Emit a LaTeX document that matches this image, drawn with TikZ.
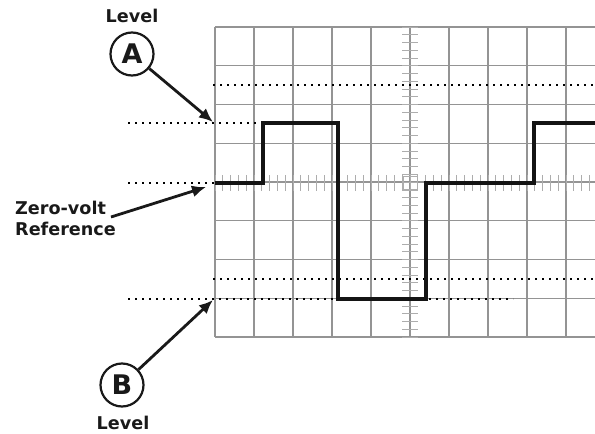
\documentclass[tikz,border=0pt]{standalone}
\usepackage{fontspec}
\setmainfont{DejaVu Sans}
\usetikzlibrary{arrows.meta}
\begin{document}
\begin{tikzpicture}[x=1pt,y=-1pt,
  gridline/.style={draw=black!42, line width=1.2pt},
  tickline/.style={draw=black!32, line width=1pt},
  dotline/.style={line width=2.3pt, dash pattern=on 2.2pt off 4.8pt},
  wave/.style={line width=3.6pt, line join=miter, draw=black!92},
  lbl/.style={font=\fontsize{17.6}{21}\selectfont\bfseries, text=black!90, inner sep=0pt},
  circ/.style={circle, draw=black!90, line width=2.2pt, minimum size=43pt, inner sep=0pt, font=\fontsize{27}{27}\selectfont\bfseries, text=black!90},
  pointer/.style={line width=2.8pt, draw=black!90, -{Latex[length=14pt,width=12pt]}}]
\useasboundingbox (0,0) rectangle (595,434);
\begin{scope}
\clip (0,0) rectangle (595,434);
% graticule
\foreach \i in {0,...,9} \draw[gridline] (215+39*\i,27) -- (215+39*\i,337);
\foreach \j in {0,...,8} \draw[gridline] (215,27+38.75*\j) -- (600,27+38.75*\j);
\foreach \k in {0,...,49} \draw[tickline] (215+7.8*\k,175) -- (215+7.8*\k,191);
\foreach \k in {0,...,40} \draw[tickline] (402,27+7.75*\k) -- (418,27+7.75*\k);
\draw[tickline] (403,176) rectangle (417,190);
% dotted level lines
\draw[dotline] (213,85) -- (600,85);
\draw[dotline] (213,279) -- (600,279);
\draw[dotline] (128,123) -- (262,123);
\draw[dotline] (128,183) -- (215,183);
\draw[dotline] (128,299) -- (513,299);
% square wave
\draw[wave] (215,183) -- (263,183) -- (263,123) -- (338,123) -- (338,299) -- (426,299) -- (426,183) -- (534,183) -- (534,123) -- (600,123);
\end{scope}
% labels
\node[lbl] (levA) at (132,15.5) {Level};
\node[circ] (A) at (132,54) {A};
\coordinate (tA) at (213,122);
\draw[pointer] (A) -- (tA);
\node[lbl, align=left, anchor=west] (zv) at (15,218) {Zero-volt\\Reference};
\coordinate (tZ) at (206,187);
\draw[pointer] ([xshift=-5pt,yshift=1pt]zv.east) -- (tZ);
\node[circ] (B) at (122,385) {B};
\node[lbl] (levB) at (123,423) {Level};
\coordinate (tB) at (213,300);
\draw[pointer] (B) -- (tB);
\end{tikzpicture}
\end{document}
